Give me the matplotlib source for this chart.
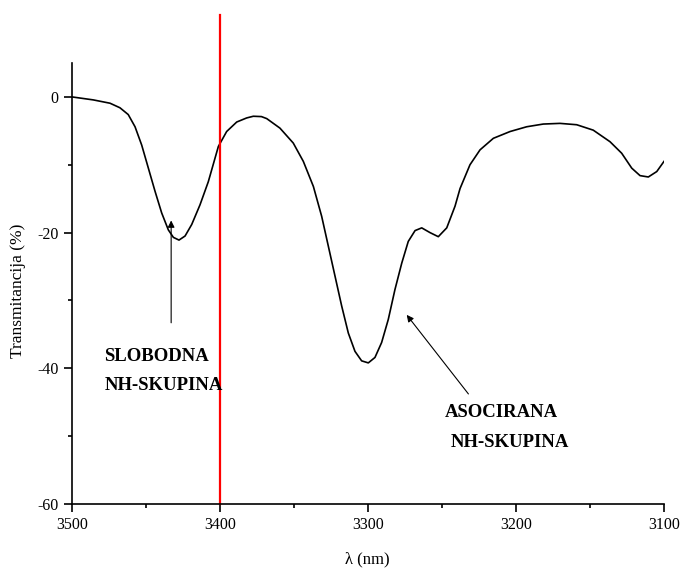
import numpy as np
import matplotlib.pyplot as plt

plt.rcParams['font.family'] = ['Liberation Serif', 'DejaVu Serif']
plt.rcParams['axes.unicode_minus'] = False

# IR spektar, ocitano sa slike
wavelength = [3500, 3485.6, 3474.3, 3467.6, 3462.0, 3457.4, 3452.9, 3448.4, 3443.9, 3439.4,
              3434.9, 3431.5, 3427.7, 3423.6, 3419.1, 3413.5, 3407.9, 3401.1, 3395.5, 3388.7,
              3382.0, 3377.5, 3372.0, 3368.4, 3359.5, 3350.5, 3343.7, 3336.9, 3331.3, 3326.8,
              3322.3, 3317.8, 3313.3, 3308.8, 3304.3, 3299.8, 3295.3, 3290.8, 3286.3, 3281.8,
              3277.2, 3272.8, 3268.2, 3263.7, 3258.1, 3252.5, 3246.8, 3241.2, 3237.8, 3231.1,
              3224.3, 3215.3, 3204.0, 3192.8, 3181.6, 3170.3, 3159.0, 3147.8, 3136.5, 3128.6,
              3121.8, 3116.2, 3110.6, 3104.9, 3100]
transmit = [0.0, -0.44, -0.93, -1.6, -2.6, -4.4, -7.1, -10.5, -13.9, -17.1,
            -19.6, -20.7, -21.1, -20.5, -18.8, -15.9, -12.5, -7.3, -5.1, -3.7,
            -3.1, -2.85, -2.9, -3.2, -4.6, -6.8, -9.5, -13.2, -17.6, -22.0,
            -26.4, -30.8, -34.8, -37.5, -38.9, -39.2, -38.4, -36.2, -32.8, -28.4,
            -24.5, -21.3, -19.7, -19.3, -20.0, -20.6, -19.3, -16.1, -13.5, -10.0,
            -7.8, -6.1, -5.1, -4.4, -4.0, -3.9, -4.1, -4.9, -6.6, -8.3,
            -10.5, -11.6, -11.8, -11.0, -9.5]

marker_x = 3400
marker_top = 12

x_ticks = [3500, 3400, 3300, 3200, 3100]
y_ticks = [0, -20, -40, -60]

fig = plt.figure(figsize=(6.83, 5.69), dpi=100)
ax = fig.add_axes([0.1054, 0.1142, 0.8668, 0.7751])

ax.plot(wavelength, transmit, color='black', lw=1.2, solid_joinstyle='round')
ax.plot([marker_x, marker_x], [-60, marker_top], color='red', lw=1.6, clip_on=False)

ax.set_xlim(3500, 3100)
ax.set_ylim(-60, 5)
ax.set_xticks(x_ticks)
ax.set_xticks([3450, 3350, 3250, 3150], minor=True)
ax.set_yticks(y_ticks)
ax.set_yticks([-10, -30, -50], minor=True)
ax.tick_params(which='major', direction='out', length=6, width=1.2, labelsize=11.5)
ax.tick_params(which='minor', direction='out', length=3, width=1.2)

for side in ['top', 'right']:
    ax.spines[side].set_visible(False)
for side in ['left', 'bottom']:
    ax.spines[side].set_linewidth(1.2)

ax.set_xlabel('λ (nm)', fontsize=12)
ax.xaxis.set_label_coords(0.498, -0.108)
ax.set_ylabel('Transmitancija (%)', fontsize=12.5)
ax.yaxis.set_label_coords(-0.078, 0.483)

# strelice i natpisi
ax.annotate('', xy=(3433, -17.8), xytext=(3433, -33.7),
            arrowprops=dict(arrowstyle='-|>', color='black', lw=0.8, mutation_scale=10))
ax.annotate('', xy=(3275, -31.8), xytext=(3231, -44.1),
            arrowprops=dict(arrowstyle='-|>', color='black', lw=0.8, mutation_scale=10))

ax.text(3478, -38.2, 'SLOBODNA', fontsize=13.5, fontweight='bold', va='center', ha='left')
ax.text(3478, -42.6, 'NH-SKUPINA', fontsize=13.5, fontweight='bold', va='center', ha='left')
ax.text(3248, -46.5, 'ASOCIRANA', fontsize=13.5, fontweight='bold', va='center', ha='left')
ax.text(3244, -50.9, 'NH-SKUPINA', fontsize=13.5, fontweight='bold', va='center', ha='left')

fig.savefig('out.png', dpi=100)
